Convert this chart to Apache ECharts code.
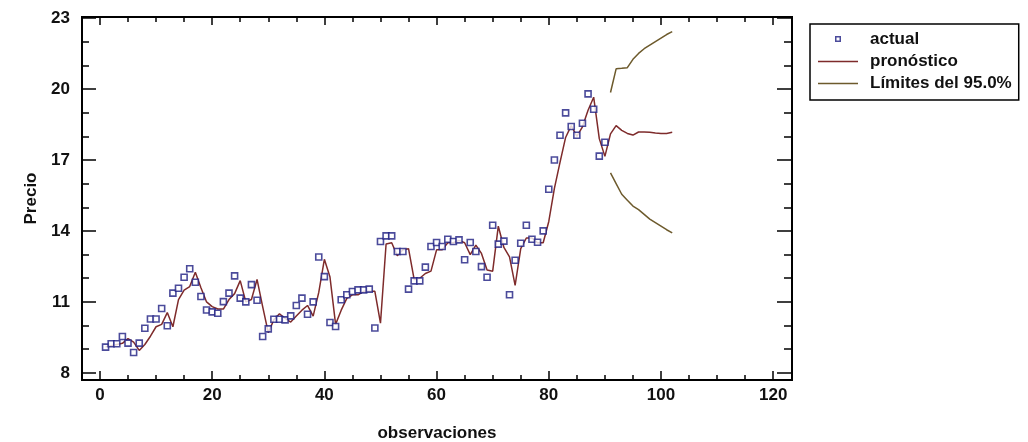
<!DOCTYPE html>
<html>
<head>
<meta charset="utf-8">
<script src="https://cdn.jsdelivr.net/npm/echarts@6/dist/echarts.min.js"></script>
<style>
  html, body { margin: 0; padding: 0; background: #fff; }
  #chart { width: 1028px; height: 442px; }
</style>
</head>
<body>
<div id="chart"></div>
<script>
// Observed prices, periods 1..90
const actual = [
  9.09, 9.23, 9.23, 9.54, 9.26, 8.86, 9.26, 9.89, 10.28, 10.28,
  10.72, 9.99, 11.37, 11.58, 12.04, 12.40, 11.83, 11.23, 10.66, 10.58,
  10.52, 11.01, 11.37, 12.10, 11.16, 11.00, 11.73, 11.07, 9.54, 9.86,
  10.27, 10.27, 10.24, 10.41, 10.85, 11.16, 10.48, 11.00, 12.90, 12.07,
  10.13, 9.96, 11.09, 11.30, 11.44, 11.51, 11.51, 11.54, 9.90, 13.55,
  13.79, 13.79, 13.13, 13.13, 11.54, 11.89, 11.89, 12.47, 13.34, 13.51,
  13.34, 13.65, 13.55, 13.62, 12.78, 13.51, 13.13, 12.49, 12.04, 14.24,
  13.44, 13.57, 11.30, 12.76, 13.48, 14.24, 13.65, 13.52, 14.00, 15.76,
  17.00, 18.04, 18.99, 18.41, 18.04, 18.55, 19.79, 19.14, 17.16, 17.75
];

// One-step forecasts, periods 1..102
const pronostico = [
  9.10, 9.15, 9.20, 9.25, 9.45, 9.30, 8.95, 9.20, 9.55, 9.95,
  10.05, 10.55, 9.95, 11.10, 11.50, 11.65, 12.25, 11.60, 11.00, 10.80,
  10.70, 10.70, 11.10, 11.35, 11.90, 11.00, 11.10, 11.95, 10.80, 9.70,
  10.25, 10.50, 10.30, 10.15, 10.40, 10.65, 10.85, 10.40, 11.40, 12.80,
  12.05, 10.05, 10.65, 11.15, 11.30, 11.30, 11.45, 11.45, 11.45, 10.10,
  13.45, 13.50, 12.95, 13.20, 13.25, 11.95, 12.00, 12.20, 12.30, 13.20,
  13.20, 13.50, 13.50, 13.60, 13.50, 13.00, 13.40, 13.05, 12.35, 12.30,
  14.20, 13.30, 12.90, 11.70, 13.25, 13.70, 13.70, 13.50, 13.50, 14.40,
  15.80, 16.90, 17.95, 18.45, 18.00, 18.40, 19.10, 19.65, 17.90, 17.15,
  18.10, 18.45, 18.25, 18.12, 18.05, 18.18, 18.18, 18.17, 18.14, 18.12,
  18.12, 18.17
];

// 95% limits for the forecast horizon, periods 91..102
const primerPeriodoLimites = 91;
const limiteSuperior = [19.85, 20.85, 20.87, 20.90, 21.25, 21.50, 21.70, 21.85, 22.00, 22.15, 22.30, 22.42];
const limiteInferior = [16.45, 16.00, 15.55, 15.30, 15.05, 14.90, 14.70, 14.50, 14.35, 14.20, 14.05, 13.92];

const xMajor = [0, 20, 40, 60, 80, 100, 120];
const xMinor = [5, 10, 15, 25, 30, 35, 45, 50, 55, 65, 70, 75, 85, 90, 95, 105, 110, 115];
const yMajor = [8, 11, 14, 17, 20, 23];
const yMinor = [9, 10, 12, 13, 15, 16, 18, 19, 21, 22];

const pairs = (vals, start) => vals.map((v, i) => [start + i, v]);

const FONT = "'Liberation Sans Narrow', 'Liberation Sans', Arial, sans-serif";
const X_MIN = -3.2, X_MAX = 123.35, Y_MIN = 7.7, Y_MAX = 23.04;
const C_ACTUAL = '#1e1e82', C_FC = '#7e2b2b', C_LIM = '#6d5a2c';

// Legend glyphs: a small hollow square centred in a 40x18 box, and a thin 40px stroke
const ICON_SQUARE = 'path://M0,0L0,0ZM40,18L40,18ZM17,6H23V12H17ZM18.5,7.5V10.5H21.5V7.5Z';
const ICON_LINE = 'path://M0,0H40V1.5H0Z';

function xAx(pos, ticks, len, withLabels) {
  return {
    type: 'value', position: pos, min: X_MIN, max: X_MAX,
    axisLine: { show: true, onZero: false, lineStyle: { color: '#000', width: 2 } },
    axisTick: { show: true, inside: true, length: len, customValues: ticks, lineStyle: { color: '#000', width: 1.5 } },
    axisLabel: withLabels ? { show: true, customValues: xMajor, margin: 7, color: '#111', fontFamily: FONT, fontWeight: 'bold', fontSize: 17 } : { show: false },
    splitLine: { show: false },
    name: withLabels ? 'observaciones' : '',
    nameLocation: 'middle', nameGap: 45,
    nameTextStyle: { color: '#111', fontFamily: FONT, fontWeight: 'bold', fontSize: 17 }
  };
}
function yAx(pos, ticks, len, withLabels) {
  return {
    type: 'value', position: pos, min: Y_MIN, max: Y_MAX,
    axisLine: { show: true, onZero: false, lineStyle: { color: '#000', width: 2 } },
    axisTick: { show: true, inside: true, length: len, customValues: ticks, lineStyle: { color: '#000', width: 1.5 } },
    axisLabel: withLabels ? { show: true, customValues: yMajor, margin: 12, color: '#111', fontFamily: FONT, fontWeight: 'bold', fontSize: 17 } : { show: false },
    splitLine: { show: false },
    name: withLabels ? 'Precio' : '',
    nameLocation: 'middle', nameGap: 42, nameRotate: 90,
    nameTextStyle: { color: '#111', fontFamily: FONT, fontWeight: 'bold', fontSize: 17 }
  };
}

const chart = echarts.init(document.getElementById('chart'), null, { renderer: 'canvas' });
chart.setOption({
  backgroundColor: '#fff',
  animation: false,
  grid: { left: 82, top: 17, width: 710, height: 363, containLabel: false, outerBoundsMode: 'none' },
  xAxis: [
    xAx('bottom', xMajor, 9, true),
    xAx('bottom', xMinor, 5, false),
    xAx('top', xMajor, 8, false),
    xAx('top', xMinor, 5, false)
  ],
  yAxis: [
    yAx('left', yMajor, 14, true),
    yAx('left', yMinor, 7, false),
    yAx('right', yMajor, 15, false),
    yAx('right', yMinor, 8, false)
  ],
  legend: {
    orient: 'vertical', left: 810, top: 24,
    padding: [6, 7, 8, 8], itemGap: 5, itemWidth: 40, itemHeight: 18,
    borderColor: '#000', borderWidth: 1.5, backgroundColor: '#fff',
    textStyle: { color: '#111', fontFamily: FONT, fontWeight: 'bold', fontSize: 17, padding: [0, 0, 0, 7] },
    data: [
      { name: 'actual', icon: ICON_SQUARE, itemStyle: { color: C_ACTUAL, borderWidth: 0 } },
      { name: 'pronóstico', icon: ICON_LINE, itemStyle: { color: C_FC, borderWidth: 0 } },
      { name: 'Límites del 95.0%', icon: ICON_LINE, itemStyle: { color: C_LIM, borderWidth: 0 } }
    ]
  },
  series: [
    {
      name: 'Límites del 95.0%', type: 'line', data: pairs(limiteSuperior, primerPeriodoLimites),
      symbol: 'none', lineStyle: { color: C_LIM, width: 1.5 }, itemStyle: { color: C_LIM }, z: 2
    },
    {
      name: 'Límites del 95.0%', type: 'line', data: pairs(limiteInferior, primerPeriodoLimites),
      symbol: 'none', lineStyle: { color: C_LIM, width: 1.5 }, itemStyle: { color: C_LIM }, z: 2
    },
    {
      name: 'pronóstico', type: 'line', data: pairs(pronostico, 1),
      symbol: 'none', lineStyle: { color: C_FC, width: 1.5 }, itemStyle: { color: C_FC }, z: 3
    },
    {
      name: 'actual', type: 'scatter', data: pairs(actual, 1),
      symbol: 'rect', symbolSize: 6,
      itemStyle: { color: '#fff', borderColor: C_ACTUAL, borderWidth: 1.6 }, z: 4
    }
  ]
});
</script>
</body>
</html>
